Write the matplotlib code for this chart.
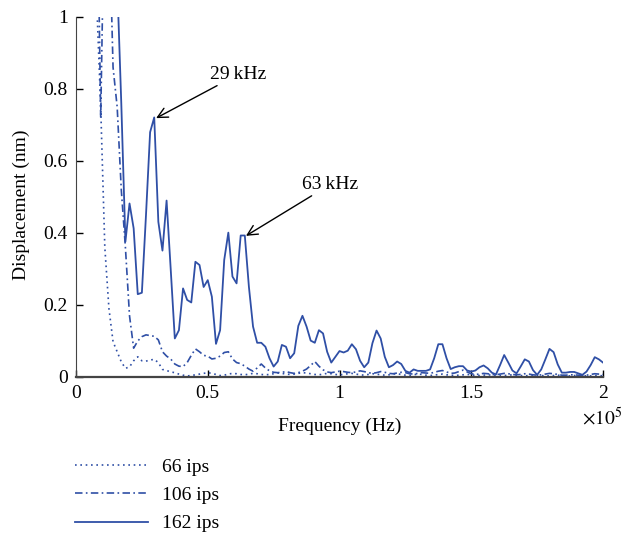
import numpy as np
import matplotlib
matplotlib.use("Agg")
import matplotlib.pyplot as plt

plt.rcParams['font.family'] = ['Liberation Serif', 'DejaVu Serif']
plt.rcParams['mathtext.fontset'] = 'stix'

# --- Data: FFT bins (bin width 1562.5 Hz), displacement in nm ---
BIN_HZ = 1562.5

first_bin_66 = 4
disp_66 = [1.6, 1.05, 0.75, 0.36, 0.19, 0.098, 0.07, 0.042, 0.024, 0.028,
           0.045, 0.056, 0.045, 0.044, 0.047, 0.049, 0.04, 0.021, 0.018, 0.014,
           0.012, 0.008, 0.005, 0.003, 0.004, 0.006, 0.008, 0.01, 0.012, 0.01,
           0.007, 0.004, 0.005, 0.008, 0.01, 0.009, 0.007, 0.006, 0.008, 0.01,
           0.009, 0.007, 0.006, 0.007, 0.009, 0.011, 0.01, 0.008, 0.007, 0.008,
           0.01, 0.012, 0.011, 0.009, 0.007, 0.006, 0.008, 0.01, 0.009, 0.007,
           0.006, 0.007, 0.009, 0.01, 0.008, 0.006, 0.005, 0.007, 0.009, 0.008,
           0.006, 0.005, 0.006, 0.008, 0.009, 0.007, 0.005, 0.004, 0.006, 0.008,
           0.007, 0.005, 0.004, 0.005, 0.007, 0.008, 0.006, 0.005, 0.004, 0.005,
           0.006, 0.007, 0.006, 0.004, 0.004, 0.005, 0.006, 0.005, 0.004, 0.003,
           0.004, 0.005, 0.006, 0.005, 0.004, 0.003, 0.004, 0.005, 0.005, 0.004,
           0.003, 0.003, 0.004, 0.005, 0.004, 0.003, 0.003, 0.004, 0.005, 0.004,
           0.003, 0.003, 0.004, 0.004, 0.003]

first_bin_106 = 5
disp_106 = [1.5, 0.72, 1.4, 1.3, 0.86, 0.75, 0.52, 0.36, 0.17, 0.08,
            0.10, 0.112, 0.117, 0.115, 0.113, 0.103, 0.07, 0.058, 0.05, 0.036,
            0.03, 0.029, 0.04, 0.06, 0.078, 0.07, 0.06, 0.058, 0.05, 0.052,
            0.058, 0.068, 0.07, 0.05, 0.04, 0.037, 0.03, 0.022, 0.016, 0.025,
            0.036, 0.025, 0.017, 0.013, 0.012, 0.013, 0.015, 0.012, 0.01, 0.012,
            0.016, 0.022, 0.032, 0.043, 0.03, 0.02, 0.014, 0.012, 0.014, 0.016,
            0.015, 0.013, 0.012, 0.014, 0.017, 0.015, 0.012, 0.01, 0.012, 0.015,
            0.013, 0.01, 0.009, 0.011, 0.013, 0.012, 0.009, 0.008, 0.01, 0.012,
            0.011, 0.01, 0.013, 0.016, 0.018, 0.014, 0.01, 0.011, 0.015, 0.019,
            0.014, 0.009, 0.007, 0.008, 0.01, 0.009, 0.007, 0.006, 0.008, 0.01,
            0.009, 0.007, 0.006, 0.007, 0.009, 0.008, 0.006, 0.005, 0.006, 0.008,
            0.01, 0.009, 0.007, 0.005, 0.005, 0.006, 0.006, 0.005, 0.004, 0.005,
            0.007, 0.009, 0.008, 0.007]

first_bin_162 = 9
disp_162 = [2.5, 1.1, 0.76, 0.376, 0.482, 0.413, 0.23, 0.234, 0.45, 0.68,
            0.721, 0.431, 0.351, 0.49, 0.30, 0.107, 0.13, 0.246, 0.214, 0.207,
            0.32, 0.311, 0.25, 0.269, 0.223, 0.092, 0.13, 0.325, 0.401, 0.279,
            0.26, 0.393, 0.393, 0.25, 0.14, 0.095, 0.095, 0.084, 0.052, 0.029,
            0.043, 0.089, 0.084, 0.052, 0.066, 0.142, 0.17, 0.14, 0.101, 0.095,
            0.13, 0.121, 0.07, 0.04, 0.056, 0.072, 0.068, 0.073, 0.091, 0.077,
            0.045, 0.027, 0.04, 0.094, 0.129, 0.107, 0.056, 0.027, 0.033, 0.043,
            0.036, 0.017, 0.012, 0.021, 0.017, 0.017, 0.017, 0.021, 0.052, 0.091,
            0.091, 0.052, 0.022, 0.027, 0.03, 0.03, 0.018, 0.015, 0.018, 0.027,
            0.032, 0.024, 0.012, 0.007, 0.033, 0.061, 0.04, 0.018, 0.01, 0.029,
            0.049, 0.043, 0.019, 0.006, 0.021, 0.049, 0.078, 0.069, 0.035, 0.012,
            0.012, 0.014, 0.014, 0.01, 0.006, 0.015, 0.033, 0.055, 0.049, 0.04]

series_labels = ['66 ips', '106 ips', '162 ips']
x_ticks = [0, 0.5e5, 1e5, 1.5e5, 2e5]
x_tick_labels = ['0', '0.5', '1', '1.5', '2']
y_ticks = [0, 0.2, 0.4, 0.6, 0.8, 1]
y_tick_labels = ['0', '0.2', '0.4', '0.6', '0.8', '1']

peaks = [(30.4e3, 0.719, '29\u2009kHz'), (64.5e3, 0.392, '63\u2009kHz')]
label_offsets = [(20.5e3, 0.098), (21.3e3, 0.119)]


def freq_axis(first_bin, values):
    return (np.arange(len(values)) + first_bin) * BIN_HZ


color = '#2f4fa6'
fig = plt.figure(figsize=(6.25, 5.39), dpi=100)
ax = fig.add_axes([0.1216, 0.3006, 0.8432, 0.6679])

ax.plot(freq_axis(first_bin_66, disp_66), disp_66, color=color, lw=1.2,
        linestyle=(0, (1, 2.2)), label=series_labels[0])
ax.plot(freq_axis(first_bin_106, disp_106), disp_106, color=color, lw=1.2,
        linestyle=(0, (4.5, 2, 1, 2)), label=series_labels[1])
ax.plot(freq_axis(first_bin_162, disp_162), disp_162, color=color, lw=1.3,
        linestyle='-', label=series_labels[2])

ax.set_xlim(0, 2e5)
ax.set_ylim(0, 1)
ax.set_xticks(x_ticks)
ax.set_xticklabels(x_tick_labels)
ax.set_yticks(y_ticks)
ax.set_yticklabels(y_tick_labels)
ax.tick_params(direction='in', length=5, width=1, labelsize=14, pad=6)

for side in ['top', 'right']:
    ax.spines[side].set_visible(False)
ax.spines['left'].set_color('#444444')
ax.spines['bottom'].set_color('#444444')
ax.spines['bottom'].set_linewidth(1.6)

ax.set_xlabel('Frequency (Hz)', fontsize=14, labelpad=11)
ax.set_ylabel('Displacement (nm)', fontsize=14, labelpad=9)
ax.yaxis.set_label_coords(-0.088, 0.478)
fig.text(0.996, 0.225, r'$\times10^5$', fontsize=14, ha='right', va='center')

for (px, py, txt), (dx, dy) in zip(peaks, label_offsets):
    ax.annotate(txt, xy=(px, py), xytext=(px + dx, py + dy),
                fontsize=14, va='bottom', ha='left',
                arrowprops=dict(arrowstyle='->', color='black', lw=1.0,
                                shrinkA=0, shrinkB=0, mutation_scale=18),
                annotation_clip=False)

fig.legend(loc='center left', bbox_to_anchor=(0.12, 0.081), frameon=False,
           fontsize=14, handlelength=3.75, labelspacing=0.55, handletextpad=0.72,
           borderpad=0, borderaxespad=0)

fig.savefig('out.png', dpi=100)
